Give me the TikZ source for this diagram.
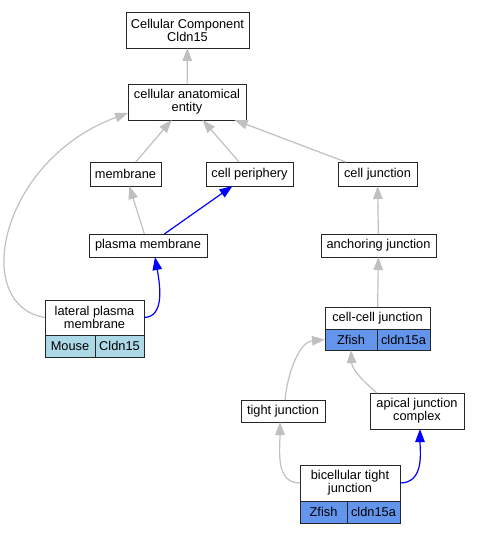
\documentclass[tikz,border=0pt]{standalone}
\usepackage{fontspec}
\setmainfont{Liberation Sans}
\usetikzlibrary{arrows.meta}
\definecolor{mouseblue}{HTML}{ADD8E6}
\definecolor{fishblue}{HTML}{6495ED}
\definecolor{isagray}{HTML}{C0C0C0}

\begin{document}
\begin{tikzpicture}[x=1pt,y=-1pt,
    term/.style={draw=black!85,line width=1pt,fill=white,inner sep=0pt,outer sep=0pt,align=center,
      font=\fontsize{12.8}{13}\selectfont},
    mousecell/.style={term,fill=mouseblue,anchor=north west},
    fishcell/.style={term,fill=fishblue,anchor=north west},
    isa/.style={draw=isagray,line width=1.2pt,-{Triangle[length=13pt,width=9.5pt]}},
    partof/.style={isa,draw=blue}]
        \useasboundingbox (0,0) rectangle (480,533);

        % 术语节点
        \node[term,minimum width=123,minimum height=36] (cc) at (187.5,30) {Cellular Component\\Cldn15};
        \node[term,minimum width=118,minimum height=36] (cae) at (187,102) {cellular anatomical\\entity};
        \node[term,minimum width=71,minimum height=24] (membrane) at (125.5,174) {membrane};
        \node[term,minimum width=87,minimum height=24] (periphery) at (249.5,174) {cell periphery};
        \node[term,minimum width=79,minimum height=24] (celljunction) at (377.5,174) {cell junction};
        \node[term,minimum width=118,minimum height=23] (plasma) at (148,245.5) {plasma membrane};
        \node[term,minimum width=115,minimum height=23] (anchoring) at (378.5,245.5) {anchoring junction};
        \node[term,minimum width=84,minimum height=22] (tight) at (283,411) {tight junction};
        \node[term,minimum width=94,minimum height=36] (apical) at (417,411) {apical junction\\complex};

        % 带物种注释的节点
        \node[term,minimum width=99,minimum height=35] (lateral) at (94.5,317.5) {lateral plasma\\membrane};
        \node[mousecell,minimum width=50,minimum height=22] (lateralsp) at (lateral.south west) {Mouse};
        \node[mousecell,minimum width=49,minimum height=22] (lateralgene) at (lateralsp.north east) {Cldn15};

        \node[term,minimum width=105,minimum height=22] (cellcell) at (377.5,318) {cell-cell junction};
        \node[fishcell,minimum width=52,minimum height=21] (cellcellsp) at (cellcell.south west) {Zfish};
        \node[fishcell,minimum width=53,minimum height=21] (cellcellgene) at (cellcellsp.north east) {cldn15a};

        \node[term,minimum width=100,minimum height=36] (bicellular) at (350,483) {bicellular tight\\junction};
        \node[fishcell,minimum width=47,minimum height=22] (bicellularsp) at (bicellular.south west) {Zfish};
        \node[fishcell,minimum width=53,minimum height=22] (bicellulargene) at (bicellularsp.north east) {cldn15a};

        % is_a 关系
        \draw[isa] (cae) -- (cc);
        \draw[isa] (membrane) -- (cae);
        \draw[isa] (periphery) -- (cae);
        \draw[isa] (celljunction) -- (cae);
        \draw[isa] (plasma) -- (membrane);
        \draw[isa] (anchoring) -- (celljunction);
        \draw[isa] (cellcell) -- (anchoring);
        \draw[isa] (lateral.west) .. controls (-30,305) and (0,160) .. ([yshift=7pt]cae.south west);
        \draw[isa] ([xshift=2pt]tight.north) .. controls (288,370) and (300,342) .. (cellcellsp.west);
        \draw[isa] ([xshift=-40pt]apical.north) .. controls (365,383) and (352,370) .. (cellcellsp.south);
        \draw[isa] (bicellular.west) .. controls (275,483) and (280,450) .. ([xshift=-3pt]tight.south);

        % part_of 关系
        \draw[partof] (plasma) -- (periphery);
        \draw[partof] (lateral.east) .. controls (165,317) and (160,285) .. ([xshift=7pt]plasma.south);
        \draw[partof] (bicellular.east) .. controls (425,483) and (420,450) .. ([xshift=3pt]apical.south);
    \end{tikzpicture}
\end{document}
